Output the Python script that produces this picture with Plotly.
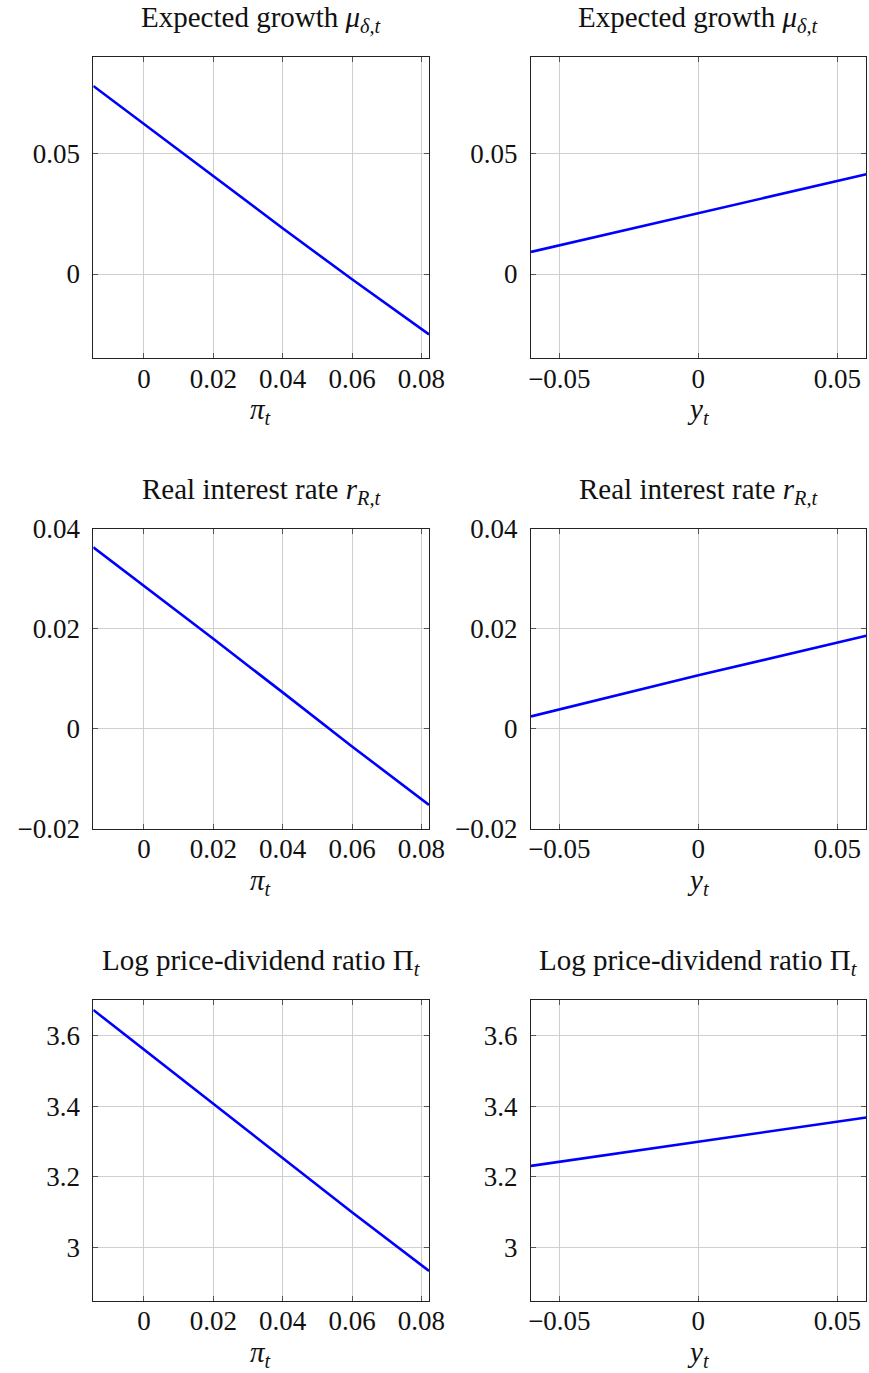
import plotly.graph_objects as go

# ---- data ----
pi_vals = [-0.0146, 0.0, 0.02, 0.04, 0.06, 0.0822]
y_vals = [-0.0602, 0.0, 0.0604]

mu_vs_pi = [0.0781, 0.0622, 0.0404, 0.0190, -0.0022, -0.0251]
mu_vs_y = [0.0092, 0.0252, 0.0414]

r_vs_pi = [0.0363, 0.0286, 0.0180, 0.0073, -0.0035, -0.0152]
r_vs_y = [0.0025, 0.0107, 0.0186]

pd_vs_pi = [3.672, 3.560, 3.405, 3.252, 3.100, 2.934]
pd_vs_y = [3.231, 3.300, 3.368]

titles = [
    "Expected growth <i>μ</i><sub><i>δ,t</i></sub>",
    "Real interest rate <i>r</i><sub><i>R,t</i></sub>",
    "Log price-dividend ratio Π<sub><i>t</i></sub>",
]
x_labels = ["<i>π</i><sub><i>t</i></sub>", "<i>y</i><sub><i>t</i></sub>"]

pi_ticks = [0, 0.02, 0.04, 0.06, 0.08]
pi_ticktext = ["0", "0.02", "0.04", "0.06", "0.08"]
y_ticks = [-0.05, 0, 0.05]
y_ticktext = ["−0.05", "0", "0.05"]

row_yticks = [[0, 0.05], [-0.02, 0, 0.02, 0.04], [3, 3.2, 3.4, 3.6]]
row_yticktext = [["0", "0.05"], ["−0.02", "0", "0.02", "0.04"], ["3", "3.2", "3.4", "3.6"]]
row_yrange = [[-0.035, 0.090], [-0.02, 0.04], [2.85, 3.70]]

x_range_pi = [-0.0146, 0.0822]
x_range_y = [-0.0602, 0.0604]

# ---- layout geometry ----
W, H = 869, 1373
col_px = [(93.3, 429.0), (531.0, 866.3)]
row_px = [(57.3, 358.3), (528.7, 829.0), (1000.0, 1300.7)]

FONT = "Liberation Serif"
FS_TICK = 27
FS_TITLE = 29

fig = go.Figure()
series = [
    (mu_vs_pi, mu_vs_y),
    (r_vs_pi, r_vs_y),
    (pd_vs_pi, pd_vs_y),
]

layout = {}
annotations = []
idx = 0
for r in range(3):
    for c in range(2):
        idx += 1
        xa = "x" if idx == 1 else f"x{idx}"
        ya = "y" if idx == 1 else f"y{idx}"
        xs = pi_vals if c == 0 else y_vals
        ys = series[r][c]
        fig.add_trace(go.Scatter(x=xs, y=ys, mode="lines",
                                 line=dict(color="#0000ff", width=2.6),
                                 xaxis=xa, yaxis=ya, showlegend=False,
                                 hoverinfo="skip"))
        x0, x1 = col_px[c]
        t0, t1 = row_px[r]
        common = dict(showline=True, linecolor="#222", linewidth=1, mirror="allticks",
                      ticks="inside", ticklen=5, tickcolor="#555", tickwidth=1,
                      showgrid=True, gridcolor="#cfcfcf", gridwidth=1,
                      zeroline=False, automargin=False,
                      tickfont=dict(family=FONT, size=FS_TICK, color="#111"))
        layout["xaxis" if idx == 1 else f"xaxis{idx}"] = dict(
            domain=[x0 / W, x1 / W], anchor=ya,
            range=x_range_pi if c == 0 else x_range_y,
            tickvals=pi_ticks if c == 0 else y_ticks,
            ticktext=pi_ticktext if c == 0 else y_ticktext,
            ticklabelstandoff=-4,
            **common)
        layout["yaxis" if idx == 1 else f"yaxis{idx}"] = dict(
            domain=[1 - t1 / H, 1 - t0 / H], anchor=xa,
            range=row_yrange[r],
            tickvals=row_yticks[r], ticktext=row_yticktext[r],
            ticklabelstandoff=7,
            **common)
        cx = (x0 + x1) / 2 / W
        annotations.append(dict(text=titles[r], x=cx, y=1 - (t0 - 38) / H,
                                xref="paper", yref="paper", showarrow=False,
                                xanchor="center", yanchor="middle",
                                font=dict(family=FONT, size=FS_TITLE, color="#111")))
        annotations.append(dict(text=x_labels[c], x=cx, y=1 - (t1 + 53) / H,
                                xref="paper", yref="paper", showarrow=False,
                                xanchor="center", yanchor="middle",
                                font=dict(family=FONT, size=FS_TITLE, color="#111")))

fig.update_layout(**layout)
fig.update_layout(width=W, height=H,
                  margin=dict(l=0, r=0, t=0, b=0, pad=0, autoexpand=False),
                  paper_bgcolor="white", plot_bgcolor="white",
                  annotations=annotations,
                  font=dict(family=FONT, size=FS_TICK, color="#111"))

fig.write_html("out.html", config={"displayModeBar": False},
               post_script="document.body.style.margin='0';document.body.style.overflow='hidden';")
